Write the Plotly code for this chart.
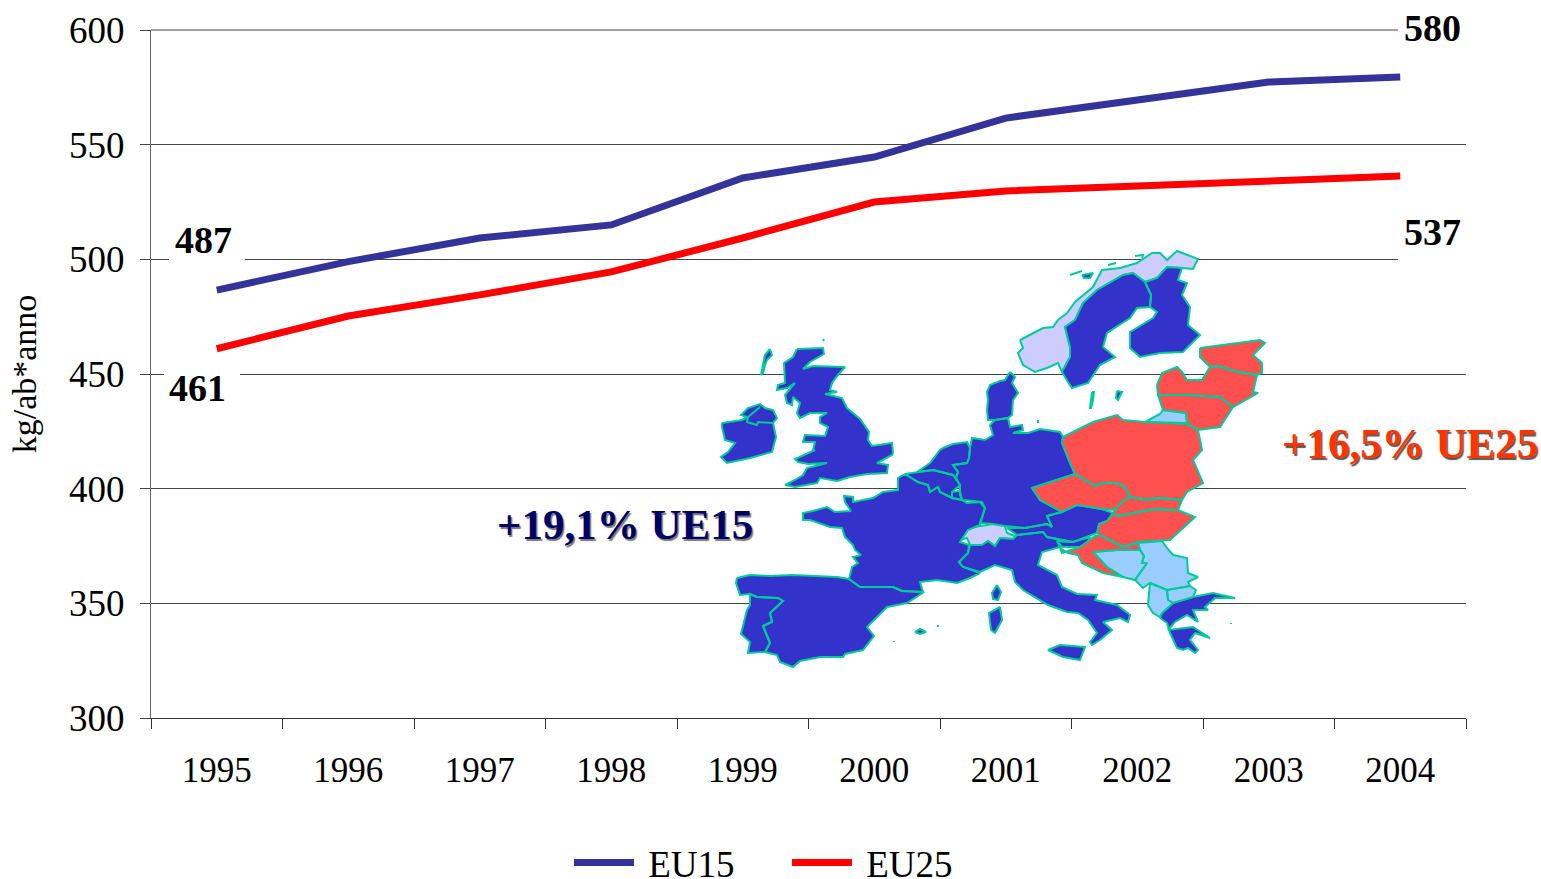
import plotly.graph_objects as go

YEARS = ["1995", "1996", "1997", "1998", "1999", "2000", "2001", "2002", "2003", "2004"]
EU15 = [486.6, 499, 509.3, 515, 535.5, 544.6, 561.6, 569.5, 577.3, 579.5]
EU25 = [461, 475.3, 484.5, 494.5, 509.3, 525, 529.8, 532, 534, 536.3]
Y_TICKS = [300, 350, 400, 450, 500, 550, 600]

# Decorative inset map of Europe, as outlines in image pixels (an illustration, not data)
BLUE = [
 [(797,349),(823,348),(824,354),(810,362),(803,369),(813,366),(845,367),(838,375),(832,383),(830,390),(837,392),(825,394),(842,398),(847,408),(860,419),(869,432),(868,440),(872,446),(892,443),(893,453),(892,455),(877,463),(888,465),(887,473),(867,474),(850,477),(837,481),(820,478),(817,483),(795,487),(785,485),(795,480),(803,475),(807,468),(827,463),(808,464),(798,462),(795,459),(815,450),(813,450),(815,442),(803,442),(805,435),(825,436),(828,427),(820,423),(820,417),(827,413),(810,413),(800,418),(797,413),(800,403),(793,397),(792,405),(787,403),(785,395),(795,383),(787,388),(777,390),(778,385),(785,383),(784,363),(793,357)],
 [(722,423),(742,420),(747,417),(741,415),(748,408),(760,404),(765,408),(773,410),(777,418),(773,423),(776,437),(772,452),(750,458),(727,463),(721,457),(728,452),(735,443),(725,440),(722,427)],
 [(770,349),(772,355),(767,360),(765,365),(763,373),(761,375),(763,365),(765,355)],
 [(905,474),(898,478),(898,490),(883,492),(873,498),(853,502),(853,497),(844,496),(845,502),(851,511),(835,512),(827,507),(813,511),(803,513),(803,520),(810,520),(830,527),(842,528),(845,537),(853,545),(855,550),(861,555),(853,557),(858,563),(852,567),(849,579),(860,587),(893,587),(902,591),(923,592),(920,582),(937,580),(957,583),(970,578),(980,573),(963,567),(959,562),(968,553),(969,545),(960,542),(968,530),(980,525),(985,508),(982,502),(963,500),(952,498),(940,492),(938,487),(930,492),(928,485),(918,482)],
 [(997,585),(1001,592),(998,600),(993,599),(992,593)],
 [(1000,607),(1002,620),(995,633),(991,630),(989,613)],
 [(737,578),(750,575),(770,576),(793,575),(837,577),(849,579),(860,587),(893,587),(902,591),(924,592),(907,603),(887,607),(867,627),(874,636),(863,650),(845,654),(843,657),(820,657),(800,661),(793,667),(780,662),(777,655),(765,652),(770,643),(763,626),(772,622),(770,613),(783,601),(778,598),(757,597),(750,594),(740,595),(736,583)],
 [(750,594),(757,597),(778,598),(783,601),(770,613),(772,622),(763,626),(770,643),(765,652),(748,653),(750,642),(741,634),(747,610),(750,605)],
 [(915,632),(920,629),(926,632),(920,634)],
 [(905,474),(933,470),(953,475),(960,485),(952,492),(952,498),(940,492),(938,487),(930,492),(928,485),(918,482)],
 [(952,492),(960,491),(962,500),(952,498)],
 [(917,472),(930,463),(940,450),(943,448),(953,444),(967,442),(970,448),(969,458),(967,463),(953,465),(958,472),(956,478),(953,475),(933,470)],
 [(1010,372),(1015,377),(1012,383),(1018,393),(1013,400),(1012,415),(1008,418),(995,420),(988,420),(987,410),(988,400),(987,392),(990,385),(1000,381),(1005,380)],
 [(995,420),(1008,418),(1010,427),(1022,425),(1023,430),(1013,433),(1028,433),(1040,429),(1060,432),(1063,437),(1062,443),(1065,450),(1070,463),(1075,474),(1053,481),(1032,488),(1040,500),(1062,512),(1047,516),(1052,527),(1047,524),(1025,528),(1005,526),(993,524),(980,523),(985,508),(980,502),(967,503),(962,500),(960,495),(960,491),(960,485),(956,478),(958,472),(953,465),(967,463),(969,458),(970,448),(972,438),(985,440),(993,435),(990,425)],
 [(1047,516),(1062,512),(1077,505),(1102,509),(1113,513),(1107,521),(1099,524),(1097,533),(1073,542),(1047,537),(1043,532),(1017,535),(1007,528),(1025,528),(1047,524),(1052,527)],
 [(970,545),(982,545),(988,541),(995,546),(1000,538),(1013,539),(1017,535),(1043,532),(1047,537),(1073,542),(1057,541),(1060,547),(1042,552),(1040,558),(1038,565),(1057,575),(1062,587),(1077,594),(1097,595),(1095,600),(1117,605),(1130,615),(1128,622),(1120,618),(1103,622),(1112,630),(1100,640),(1092,645),(1090,642),(1097,633),(1088,620),(1078,613),(1067,612),(1048,605),(1023,590),(1015,582),(1012,570),(995,565),(980,572),(963,567),(959,562),(968,553)],
 [(1048,650),(1060,645),(1085,647),(1080,660),(1063,657)],
 [(1057,541),(1073,542),(1090,537),(1088,542),(1080,547),(1062,547)],
 [(1075,320),(1083,303),(1097,290),(1123,275),(1133,273),(1145,282),(1151,295),(1150,307),(1137,308),(1130,318),(1107,333),(1103,347),(1115,357),(1100,365),(1088,383),(1072,388),(1068,382),(1062,372),(1070,357),(1070,347),(1065,327)],
 [(1145,282),(1151,295),(1150,307),(1157,312),(1153,318),(1130,332),(1130,348),(1140,357),(1160,353),(1183,352),(1200,335),(1188,325),(1190,307),(1182,295),(1187,283),(1178,280),(1182,268),(1167,267),(1157,278)],
 [(1160,618),(1162,613),(1173,603),(1193,597),(1213,593),(1235,598),(1215,598),(1205,607),(1208,610),(1193,610),(1198,622),(1187,615),(1175,622),(1168,630),(1193,627),(1210,638),(1195,633),(1190,640),(1198,650),(1195,653),(1188,648),(1183,650),(1177,648),(1170,633),(1167,623)],
 [(1092,392),(1094,392),(1093,400),(1091,408),(1090,408)],
 [(1117,391),(1122,392),(1118,400),(1116,398)],
 [(1082,275),(1093,273),(1090,278),(1084,278)],
]
RED = [
 [(1200,348),(1260,340),(1265,343),(1253,355),(1262,363),(1262,373),(1257,375),(1238,372),(1218,366),(1210,367),(1200,357)],
 [(1157,385),(1162,373),(1177,367),(1182,372),(1187,380),(1202,380),(1210,367),(1218,366),(1238,372),(1257,375),(1253,392),(1258,393),(1233,407),(1220,397),(1187,395),(1158,395)],
 [(1158,395),(1187,395),(1220,397),(1233,407),(1220,427),(1198,430),(1187,423),(1186,413),(1163,410)],
 [(1063,437),(1093,422),(1117,415),(1123,420),(1145,422),(1187,424),(1198,430),(1202,450),(1193,460),(1203,483),(1187,492),(1182,500),(1157,498),(1147,500),(1130,497),(1125,487),(1117,483),(1102,483),(1095,486),(1075,474),(1070,463),(1065,450),(1062,443)],
 [(1032,488),(1053,481),(1075,474),(1095,486),(1102,483),(1117,483),(1125,487),(1130,497),(1122,502),(1115,510),(1102,509),(1077,505),(1062,512),(1040,500)],
 [(1130,497),(1147,500),(1157,498),(1182,500),(1178,510),(1170,510),(1155,509),(1118,516),(1113,513),(1115,510),(1122,502)],
 [(1113,513),(1118,516),(1155,509),(1170,510),(1178,510),(1195,517),(1170,540),(1138,542),(1123,547),(1100,535),(1097,533),(1099,524),(1107,521)],
 [(1060,548),(1062,553),(1080,547),(1095,536),(1100,535),(1123,547),(1138,543),(1140,550),(1117,550),(1093,552),(1107,567),(1123,577),(1103,573),(1082,563),(1078,555),(1068,553)],
]
LAVENDER = [
 [(1020,340),(1043,328),(1053,327),(1058,320),(1067,313),(1075,302),(1093,287),(1102,270),(1120,268),(1137,263),(1152,253),(1160,253),(1167,260),(1177,251),(1198,259),(1193,269),(1182,268),(1167,267),(1157,278),(1145,282),(1133,273),(1123,275),(1097,290),(1083,303),(1075,320),(1065,327),(1070,347),(1070,357),(1062,372),(1058,363),(1047,368),(1035,372),(1023,365),(1018,353),(1023,348)],
 [(968,528),(993,524),(1005,526),(1007,533),(1015,536),(1013,539),(1000,538),(995,546),(988,541),(982,545),(970,545),(967,538),(960,540)],
]
LIGHT_BLUE = [
 [(1145,422),(1160,414),(1163,410),(1186,413),(1187,423)],
 [(1093,552),(1117,550),(1140,550),(1144,556),(1142,563),(1147,563),(1135,580),(1123,577),(1107,567)],
 [(1138,543),(1162,541),(1167,548),(1173,555),(1187,558),(1188,573),(1198,577),(1188,582),(1190,586),(1167,590),(1150,583),(1143,588),(1135,580),(1147,563),(1142,563),(1144,556),(1140,550)],
 [(1167,590),(1190,586),(1196,590),(1193,597),(1173,603),(1168,600)],
 [(1150,583),(1167,590),(1168,600),(1173,603),(1162,613),(1160,617),(1153,613),(1148,605)],
]
TEAL_LINES = [
 [(742,420),(748,417),(747,422),(757,425),(758,422),(772,423)],
 [(748,417),(760,407)],
 [(1070,275),(1082,271)],
 [(1108,265),(1116,263)],
 [(1135,256),(1143,255),(1142,258)],
 [(823,339),(824,341)],
 [(1038,420),(1038,423)],
 [(938,625),(938,627)],
 [(1231,623),(1231,624)],
 [(894,641),(894,642)],
]

FONT = "Liberation Serif"
TEAL = "#00CC99"


def flatten(polys):
    xs, ys = [], []
    for poly in polys:
        xs += [p[0] for p in poly] + [poly[0][0], None]
        ys += [p[1] for p in poly] + [poly[0][1], None]
    return xs, ys


fig = go.Figure()
fig.add_trace(go.Scatter(x=YEARS, y=EU15, name="\u00a0EU15", mode="lines",
                         line=dict(color="#333399", width=7), hoverinfo="x+y"))
fig.add_trace(go.Scatter(x=YEARS, y=EU25, name="\u00a0EU25", mode="lines",
                         line=dict(color="#FF0000", width=7), hoverinfo="x+y"))

for polys, colour in [(LAVENDER, "#CCCCFF"), (BLUE, "#3333CC"), (LIGHT_BLUE, "#99CCFF"), (RED, "#FF5050")]:
    xs, ys = flatten(polys)
    fig.add_trace(go.Scatter(x=xs, y=ys, xaxis="x2", yaxis="y2", mode="lines", fill="toself",
                             fillcolor=colour, line=dict(color=TEAL, width=2),
                             showlegend=False, hoverinfo="skip"))
lx, ly = [], []
for seg in TEAL_LINES:
    lx += [p[0] for p in seg] + [None]
    ly += [p[1] for p in seg] + [None]
fig.add_trace(go.Scatter(x=lx, y=ly, xaxis="x2", yaxis="y2", mode="lines",
                         line=dict(color=TEAL, width=2), showlegend=False, hoverinfo="skip"))

# top gridline, which stops short of the "580" label
fig.add_shape(type="line", xref="paper", yref="paper", x0=0, x1=(1398 - 151) / 1315, y0=1, y1=1,
              line=dict(color="#444444", width=1), layer="below")

# white masks behind the value labels, interrupting the gridlines
for x0, x1, y0, y1 in [(169, 245, 225, 268), (164, 240, 368, 408), (1398, 1468, 215, 266)]:
    fig.add_shape(type="rect", xref="x2", yref="y2", x0=x0, x1=x1, y0=y0, y1=y1,
                  fillcolor="white", line_width=0, layer="above")

labels = [("487", 203, 240), ("461", 197, 388), ("537", 1432, 232)]
for text, x, y in labels:
    fig.add_annotation(text=text, x=x, y=y, xref="x2", yref="y2", showarrow=False,
                       font=dict(family=FONT, size=38, color="black", weight="bold"))
fig.add_annotation(text="580", x=(1432 - 151) / 1315, y=(718 - 28) / 688, xref="paper", yref="paper",
                   xanchor="center", yanchor="middle", showarrow=False,
                   font=dict(family=FONT, size=38, color="black", weight="bold"))
fig.add_annotation(text="+19,1% UE15", x=625, y=524, xref="x2", yref="y2", showarrow=False,
                   font=dict(family=FONT, size=43, color="#000066", weight="bold",
                             shadow="1.5px 1.5px 1px #777777"))
fig.add_annotation(text="+16,5% UE25", x=1410, y=443, xref="x2", yref="y2", showarrow=False,
                   font=dict(family=FONT, size=43, color="#FF3300", weight="bold",
                             shadow="1.5px 1.5px 1px #555555"))

fig.update_layout(
    width=1541, height=879,
    margin=dict(l=151, r=75, t=30, b=161, autoexpand=False),
    paper_bgcolor="white", plot_bgcolor="white",
    font=dict(family=FONT, color="black", size=35),
    xaxis=dict(type="category", categoryorder="array", categoryarray=YEARS, range=[-0.5, 9.5],
               tickson="boundaries", ticks="outside", ticklen=10, tickwidth=1, tickcolor="#333333",
               showline=True, linecolor="#333333", linewidth=1, showgrid=False,
               tickfont=dict(family=FONT, size=35), ticklabelstandoff=21),
    yaxis=dict(range=[300, 600], tickvals=Y_TICKS, ticks="outside", ticklen=10, tickwidth=1,
               tickcolor="#444444", showline=True, linecolor="#666666", linewidth=1,
               showgrid=True, gridcolor="#444444", gridwidth=1, zeroline=False,
               tickfont=dict(family=FONT, size=37), ticklabelstandoff=8,
               title=dict(text="kg/ab*anno", font=dict(family=FONT, size=34), standoff=22)),
    xaxis2=dict(overlaying="x", range=[151, 1466], visible=False, fixedrange=True),
    yaxis2=dict(overlaying="y", range=[718, 30], visible=False, fixedrange=True),
    legend=dict(orientation="h", x=(569 - 151) / 1315, xanchor="left", y=(718 - 863) / 688, yanchor="middle",
                itemwidth=60, font=dict(family=FONT, size=37), bgcolor="rgba(0,0,0,0)",
                entrywidthmode="pixels", entrywidth=143),
    hovermode="closest",
)

fig.write_html("out.html", config={"displayModeBar": False},
               post_script="document.body.style.margin='0';document.documentElement.style.overflow='hidden';")
